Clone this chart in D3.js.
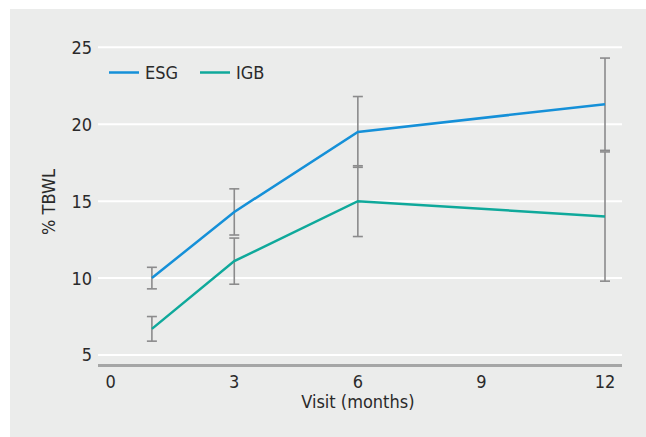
<!DOCTYPE html>
<html>
<head>
<meta charset="utf-8">
<script src="https://cdn.jsdelivr.net/npm/d3@7"></script>
<style>
  body { margin: 0; background: #fff; }
  text { font-family: "Liberation Sans Narrow", "DejaVu Sans Condensed", "Roboto Condensed", sans-serif; font-stretch: condensed; fill: #2a2a2a; }
</style>
</head>
<body>
<div class="chart"></div>
<script>
// months of each visit
const visits = [1, 3, 6, 12]
const esg = [10.0, 14.3, 19.5, 21.3]
const esgErr = [0.7, 1.5, 2.3, 3.0]
const igb = [6.7, 11.1, 15.0, 14.0]
const igbErr = [0.8, 1.5, 2.3, 4.2]
const xTicks = [0, 3, 6, 9, 12]
const yTicks = [5, 10, 15, 20, 25]
const seriesNames = ['ESG', 'IGB']
const colors = ['#1590d8', '#0fa99b']

const W = 646, H = 437
const svg = d3.select('.chart')
  .append('svg')
  .attr('width', W)
  .attr('height', H)

svg.append('rect')
  .attr('x', 10).attr('y', 9)
  .attr('width', W - 10).attr('height', H - 9)
  .attr('fill', '#ebeceb')

const x = d3.scaleLinear().domain([0, 12]).range([110.7, 605])
const y = d3.scaleLinear().domain([5, 25]).range([355, 47.3])
const gridLeft = 98, gridRight = 622

// grid lines
svg.selectAll('.grid')
  .data(yTicks)
  .enter()
  .append('line')
  .attr('x1', gridLeft).attr('x2', gridRight)
  .attr('y1', d => y(d)).attr('y2', d => y(d))
  .attr('stroke', '#fff')
  .attr('stroke-width', 2)

// bottom axis line
svg.append('line')
  .attr('x1', gridLeft).attr('x2', gridRight)
  .attr('y1', 365.5).attr('y2', 365.5)
  .attr('stroke', '#a5a6a6')
  .attr('stroke-width', 3)

svg.selectAll('.ylab')
  .data(yTicks)
  .enter()
  .append('text')
  .attr('x', 92)
  .attr('y', d => y(d))
  .attr('dy', '0.36em')
  .attr('text-anchor', 'end')
  .style('font-size', '18px')
  .text(d => d)

svg.selectAll('.xlab')
  .data(xTicks)
  .enter()
  .append('text')
  .attr('x', d => x(d))
  .attr('y', 388)
  .attr('text-anchor', 'middle')
  .style('font-size', '18px')
  .text(d => d)

svg.append('text')
  .attr('x', x(6))
  .attr('y', 408)
  .attr('text-anchor', 'middle')
  .style('font-size', '18px')
  .text('Visit (months)')

svg.append('text')
  .attr('transform', 'translate(55,202) rotate(-90)')
  .attr('text-anchor', 'middle')
  .style('font-size', '18px')
  .text('% TBWL')

const series = [
  {vals: esg, errs: esgErr},
  {vals: igb, errs: igbErr}
]

// error bars
series.forEach(s => {
  const g = svg.append('g')
    .attr('stroke', '#8b8b8c')
    .attr('stroke-width', 1.6)
  visits.forEach((v, i) => {
    const lo = s.vals[i] - s.errs[i], hi = s.vals[i] + s.errs[i]
    g.append('line')
      .attr('x1', x(v)).attr('x2', x(v))
      .attr('y1', y(lo)).attr('y2', y(hi))
    ;[lo, hi].forEach(e => {
      g.append('line')
        .attr('x1', x(v) - 5).attr('x2', x(v) + 5)
        .attr('y1', y(e)).attr('y2', y(e))
    })
  })
})

const line = d3.line()
  .x(d => x(d[0]))
  .y(d => y(d[1]))

series.forEach((s, k) => {
  svg.append('path')
    .datum(visits.map((v, i) => [v, s.vals[i]]))
    .attr('d', line)
    .attr('fill', 'none')
    .attr('stroke', colors[k])
    .attr('stroke-width', 2.5)
})

// legend
const legX = [109, 200]
seriesNames.forEach((n, k) => {
  svg.append('line')
    .attr('x1', legX[k]).attr('x2', legX[k] + 30)
    .attr('y1', 72.5).attr('y2', 72.5)
    .attr('stroke', colors[k])
    .attr('stroke-width', 2.5)
  svg.append('text')
    .attr('x', legX[k] + 36)
    .attr('y', 72.5)
    .attr('dy', '0.36em')
    .style('font-size', '18px')
    .text(n)
})
</script>
</body>
</html>
